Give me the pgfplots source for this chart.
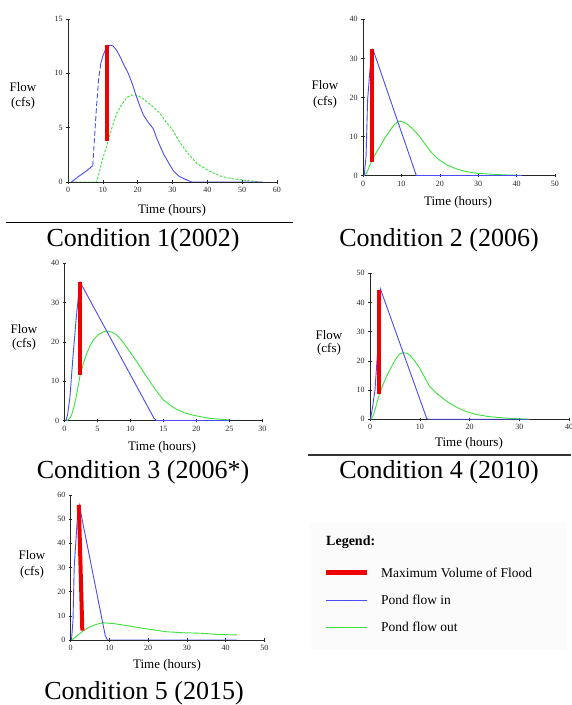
\documentclass[border=0pt]{standalone}
\usepackage{pgfplots}
\pgfplotsset{compat=1.18}
\usepackage{fontspec}
\setmainfont{Liberation Serif}
\definecolor{pondin}{RGB}{75,75,240}
\definecolor{pondout}{RGB}{60,225,60}
\definecolor{flood}{RGB}{240,0,0}

\pgfplotsset{
  hyd/.style={
    scale only axis,
    axis x line*=bottom, axis y line*=left,
    axis line style={black!85, line width=0.6pt},
    tick align=center, major tick length=3.5pt,
    tick style={black!85, line width=0.5pt},
    ticklabel style={font=\fontsize{8}{9}\selectfont, text=black!85},
    /pgf/number format/assume math mode=true,
    xmin=0, ymin=0,
    anchor=south west,
  },
  inflow/.style={pondin, line width=0.9pt},
  outflow/.style={pondout, line width=0.9pt},
  maxvol/.style={flood, line width=4pt},
}
\newcommand{\lab}{\fontsize{13}{14}\selectfont}
\newcommand{\capt}{\fontsize{26}{28}\selectfont}

\begin{document}
\begin{tikzpicture}[x=1pt, y=1pt]
\path[use as bounding box] (0,0) rectangle (571,705);

% ---------- Condition 1 (2002)
\begin{axis}[hyd, at={(68pt,523pt)}, width=209pt, height=163pt,
  xmax=60, ymax=15, xtick={0,10,...,60}, ytick={0,5,10,15}]
  \addplot[outflow, dash pattern=on 2.5pt off 1.5pt] coordinates {(1,0)(8.2,0)(9,0.9)(10,2.2)(11.1,3.3)(12,4.3)(13,5.4)(14,6.3)(15,6.9)(16,7.4)(17,7.8)(18.3,8.0)(19.5,8.0)(21,7.8)(23,7.3)(24.5,6.9)(26.4,6.3)(28,5.6)(30,4.8)(32.2,3.6)(34,2.8)(37,1.7)(40,1.1)(43.7,0.55)(47,0.3)(51,0.15)(55,0)};
  \addplot[inflow] coordinates {(1,0)(3,0.5)(5,0.95)(7.1,1.5)};
  \addplot[inflow, dash pattern=on 5pt off 2.5pt] coordinates {(7.1,1.5)(7.6,4)(8.2,7)(8.8,9.5)(9.4,10.9)};
  \addplot[inflow] coordinates {(9.4,10.9)(10,11.6)(10.8,12.2)(11.5,12.5)(12.2,12.6)(13,12.5)(14,12.1)(15,11.5)(16,10.8)(17.3,10)(18.5,9)(19.5,8)(20.5,7.1)(21.6,6.2)(23,5.5)(24.5,4.9)(25.5,4)(27.4,2.6)(29,1.7)(30.3,1.0)(32,0.5)(34,0.2)(35.5,0)(56,0)};
  \addplot[maxvol] coordinates {(11.1,3.8)(11.1,12.6)};
\end{axis}
\node[font=\lab] at (23,618) {Flow};
\node[font=\lab] at (23,602) {(cfs)};
\node[font=\lab] at (172,495) {Time (hours)};
\draw[black, line width=0.8pt] (6,483) -- (293,483);
\node[font=\capt] at (143,465) {Condition 1(2002)};

% ---------- Condition 2 (2006)
\begin{axis}[hyd, at={(363pt,529.3pt)}, width=192pt, height=156.4pt,
  xmax=50, ymax=40, xtick={0,10,...,50}, ytick={0,10,...,40}]
  \addplot[outflow] coordinates {(0.3,0)(1,0.8)(1.6,2.2)(2.2,3.6)(3.2,5.5)(4.5,7.6)(5.8,9.8)(7.1,11.7)(8.3,13.2)(9.3,13.9)(10.3,13.8)(11.5,13.2)(12.8,12.1)(14.1,10.8)(15.8,8.6)(17.5,6.3)(19.5,4.3)(21.9,2.7)(24.5,1.7)(27.1,1.0)(30,0.6)(33.2,0.4)(37,0.2)(41.4,0.1)};
  \addplot[inflow] coordinates {(0.3,0)(0.8,5)(1.2,19.4)(1.8,27)(2.6,32.3)(13.9,0)(41.4,0)};
  \addplot[maxvol] coordinates {(2.3,3.6)(2.3,32.5)};
\end{axis}
\node[font=\lab] at (325,620) {Flow};
\node[font=\lab] at (325,603) {(cfs)};
\node[font=\lab] at (458,503) {Time (hours)};
\node[font=\capt] at (439,465) {Condition 2 (2006)};

% ---------- Condition 3 (2006*)
\begin{axis}[hyd, at={(64.3pt,284.3pt)}, width=198pt, height=157.4pt,
  xmax=30, ymax=40, xtick={0,5,...,30}, ytick={0,10,...,40}]
  \addplot[outflow] coordinates {(0.35,0)(0.7,0.4)(1.1,1.4)(1.5,3.8)(1.9,6.9)(2.4,11.6)(2.9,14.6)(3.4,17.1)(3.9,19)(4.4,20.5)(5.1,21.8)(5.9,22.6)(6.5,22.8)(7.2,22.5)(7.9,21.8)(8.6,20.6)(9.4,18.8)(10.4,16.4)(11.5,13.7)(12.5,11.1)(13.5,8.6)(14.3,6.8)(15,5.3)(16,4.0)(17,2.9)(18.2,2.0)(19.5,1.4)(20.7,1.0)(22,0.6)(23.5,0.4)(25,0.2)};
  \addplot[inflow] coordinates {(0.25,0)(0.5,1.5)(0.86,6.1)(1.3,16)(1.8,26)(2.1,31)(2.4,35.2)(13.6,0.6)(14,0)(25,0)};
  \addplot[maxvol] coordinates {(2.4,11.6)(2.4,35.2)};
\end{axis}
\node[font=\lab] at (24,376) {Flow};
\node[font=\lab] at (24,361) {(cfs)};
\node[font=\lab] at (162,258) {Time (hours)};
\node[font=\capt] at (143,233) {Condition 3 (2006*)};

% ---------- Condition 4 (2010)
\begin{axis}[hyd, at={(370pt,285.7pt)}, width=199pt, height=146pt,
  xmax=40, ymax=50, xtick={0,10,...,40}, ytick={0,10,...,50}]
  \addplot[outflow] coordinates {(0.3,0)(0.8,2)(1.3,5)(1.9,8.7)(2.6,11.8)(3.3,14.6)(4,17)(4.7,19.2)(5.3,21)(6,22.4)(6.7,22.8)(7.4,22.6)(8,22)(9,20)(10,17.5)(11,14.3)(12,11.2)(13.4,8.9)(14.7,7.1)(16,5.5)(17.7,3.9)(19.4,2.6)(21.5,1.6)(24,0.9)(26.7,0.5)(29.4,0.2)(32,0)};
  \addplot[inflow] coordinates {(0.1,0)(0.5,4)(1,10)(1.4,20)(1.7,27)(1.9,37.4)(2.1,44.6)(11.4,0.3)(11.7,0)(32,0)};
  \addplot[maxvol] coordinates {(1.9,8.7)(1.9,44.3)};
\end{axis}
\node[font=\lab] at (329,370) {Flow};
\node[font=\lab] at (329,356) {(cfs)};
\node[font=\lab] at (469,262) {Time (hours)};
\draw[black!80, line width=1.6pt] (308,250) -- (571,250);
\node[font=\capt] at (439,233) {Condition 4 (2010)};

% ---------- Condition 5 (2015)
\begin{axis}[hyd, at={(70.7pt,65pt)}, width=193.6pt, height=145pt,
  xmax=50, ymax=60, xtick={0,10,...,50}, ytick={0,10,...,60}]
  \addplot[outflow] coordinates {(0.3,0)(1.2,1.2)(2.5,2.8)(3.3,3.9)(4.2,4.8)(5.1,5.5)(6.3,6.3)(7.6,6.9)(8.5,7.1)(9.4,7.0)(11,6.8)(13.5,6.2)(16.2,5.5)(18.4,4.9)(20.5,4.4)(22.6,3.9)(24.8,3.4)(27,3.2)(29.1,3.0)(31.3,2.9)(33.4,2.8)(35.5,2.6)(37.7,2.3)(40.4,2.2)(43,2.1)};
  \addplot[inflow] coordinates {(0.2,0)(0.6,8.3)(0.9,30)(1.3,40)(1.8,52.4)(2.2,55.9)(8.9,2)(9.5,0)(43,0)};
  \addplot[maxvol] coordinates {(2.1,55.9)(3.0,3.9)};
\end{axis}
\node[font=\lab] at (32,150) {Flow};
\node[font=\lab] at (32,133) {(cfs)};
\node[font=\lab] at (167,40) {Time (hours)};
\node[font=\capt] at (144,12) {Condition 5 (2015)};

% ---------- legend panel
\fill[black!1.5] (310,55) rectangle (567,182);
\node[font=\fontsize{14}{15}\selectfont\bfseries, anchor=west, inner sep=0pt] at (326,163) {Legend:};
\draw[flood, line width=5pt] (326,132) -- (367,132);
\node[font=\fontsize{13.5}{15}\selectfont, anchor=west, inner sep=0pt] at (381,132) {Maximum Volume of Flood};
\draw[pondin, line width=0.9pt] (326,105) -- (367,105);
\node[font=\fontsize{13.5}{15}\selectfont, anchor=west, inner sep=0pt] at (381,105) {Pond flow in};
\draw[pondout, line width=0.9pt] (326,78) -- (367,78);
\node[font=\fontsize{13.5}{15}\selectfont, anchor=west, inner sep=0pt] at (381,78) {Pond flow out};
\end{tikzpicture}
\end{document}
